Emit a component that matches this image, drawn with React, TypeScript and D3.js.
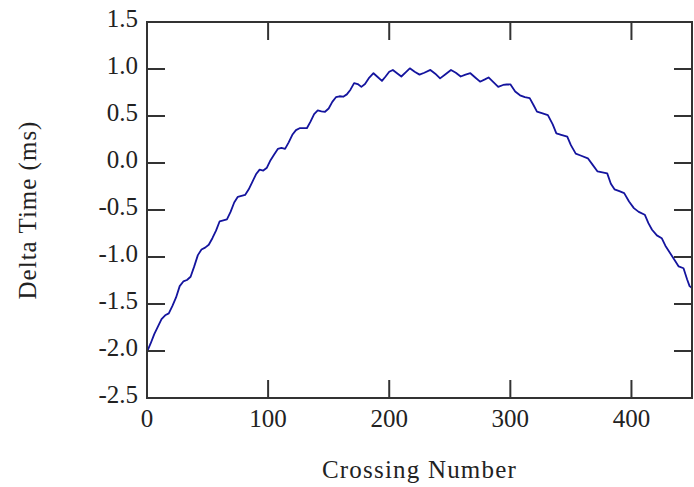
import { useEffect } from 'react';
import * as d3 from 'd3';

// crossing number vs. delta time (ms)
const CROSSING = [
  0, 3, 6, 9, 12, 15, 18, 21, 24, 27, 30, 33, 36, 39, 42, 45, 48, 51, 54, 57,
  60, 63, 66, 69, 72, 75, 78, 81, 84, 87, 90, 93, 96, 99, 102, 105, 108, 111, 114, 117,
  120, 123, 126, 129, 132, 135, 138, 141, 144, 147, 150, 153, 156, 159, 162, 165, 168, 171, 174, 177,
  180, 183, 187, 190, 194, 197, 200, 203, 207, 210, 214, 217, 221, 225, 229, 234, 238, 242, 247, 251,
  255, 259, 263, 267, 271, 275, 279, 282, 286, 290, 294, 297, 300, 304, 308, 312, 316, 319, 322, 326,
  331, 335, 338, 342, 347, 350, 354, 358, 364, 368, 372, 376, 380, 383, 386, 390, 394, 398, 402, 406,
  411, 414, 417, 421, 425, 428, 432, 436, 439, 443, 446, 448, 450,
];
const DELTA = [
  -2.01, -1.92, -1.82, -1.74, -1.66, -1.62, -1.6, -1.52, -1.43, -1.31, -1.26, -1.245, -1.21, -1.1, -0.98, -0.92, -0.9, -0.87, -0.8, -0.72,
  -0.62, -0.61, -0.6, -0.52, -0.42, -0.36, -0.35, -0.34, -0.28, -0.2, -0.12, -0.07, -0.08, -0.05, 0.03, 0.09, 0.15, 0.16, 0.15, 0.22,
  0.3, 0.35, 0.37, 0.37, 0.37, 0.44, 0.52, 0.56, 0.55, 0.545, 0.58, 0.65, 0.7, 0.71, 0.705, 0.73, 0.78, 0.85, 0.84, 0.81,
  0.84, 0.9, 0.955, 0.92, 0.873, 0.92, 0.97, 0.99, 0.95, 0.92, 0.97, 1.007, 0.97, 0.94, 0.96, 0.99, 0.95, 0.9, 0.95, 0.99,
  0.96, 0.92, 0.94, 0.955, 0.91, 0.865, 0.89, 0.91, 0.86, 0.81, 0.83, 0.835, 0.837, 0.76, 0.72, 0.7, 0.69, 0.62, 0.546, 0.53,
  0.51, 0.41, 0.316, 0.3, 0.28, 0.19, 0.1, 0.08, 0.05, -0.02, -0.09, -0.1, -0.11, -0.22, -0.28, -0.3, -0.32, -0.41, -0.48, -0.52,
  -0.55, -0.64, -0.71, -0.77, -0.8, -0.88, -0.96, -1.04, -1.1, -1.12, -1.24, -1.31, -1.33,
];
const X_TICKS = [0, 100, 200, 300, 400];
const Y_TICKS = [-2.5, -2.0, -1.5, -1.0, -0.5, 0.0, 0.5, 1.0, 1.5];

const W = 694;
const H = 487;
const M = { left: 147, right: 692, top: 22, bottom: 398 };
const TICK = 18;
const FONT = '"Liberation Serif", "Times New Roman", serif';
const AXIS_COLOR = '#333333';

export default function App() {
  useEffect(() => {
    document.body.style.margin = '0';
  }, []);

  const x = d3.scaleLinear().domain([0, 450]).range([M.left, M.right]);
  const y = d3.scaleLinear().domain([-2.5, 1.5]).range([M.bottom, M.top]);

  const points: [number, number][] = CROSSING.map((c, i) => [c, DELTA[i]]);
  const line = d3
    .line<[number, number]>()
    .x((d) => x(d[0]))
    .y((d) => y(d[1]));

  return (
    <svg width={W} height={H} style={{ display: 'block', background: '#fff' }}>
      {/* data line */}
      <path d={line(points) ?? ''} fill="none" stroke="#14149e" strokeWidth={1.8} strokeLinejoin="round" />

      {/* frame */}
      <rect
        x={M.left}
        y={M.top}
        width={M.right - M.left}
        height={M.bottom - M.top}
        fill="none"
        stroke={AXIS_COLOR}
        strokeWidth={2}
      />

      {/* x ticks, bottom and top, pointing inward */}
      {X_TICKS.map((t) => (
        <g key={`x${t}`}>
          <line x1={x(t)} x2={x(t)} y1={M.bottom} y2={M.bottom - TICK} stroke={AXIS_COLOR} strokeWidth={2} />
          <line x1={x(t)} x2={x(t)} y1={M.top} y2={M.top + TICK} stroke={AXIS_COLOR} strokeWidth={2} />
          <text x={x(t)} y={427} textAnchor="middle" fontFamily={FONT} fontSize={25} fill="#222">
            {t}
          </text>
        </g>
      ))}

      {/* y ticks, left and right */}
      {Y_TICKS.map((t) => (
        <g key={`y${t}`}>
          <line x1={M.left} x2={M.left + TICK} y1={y(t)} y2={y(t)} stroke={AXIS_COLOR} strokeWidth={2} />
          <line x1={M.right} x2={M.right - TICK} y1={y(t)} y2={y(t)} stroke={AXIS_COLOR} strokeWidth={2} />
          <text
            x={138}
            y={y(t) + 5}
            textAnchor="end"
            fontFamily={FONT}
            fontSize={25}
            fill="#222"
          >
            {t.toFixed(1)}
          </text>
        </g>
      ))}

      {/* axis titles */}
      <text
        x={(M.left + M.right) / 2}
        y={478}
        textAnchor="middle"
        fontFamily={FONT}
        fontSize={25}
        letterSpacing={1.2}
        fill="#222"
      >
        Crossing Number
      </text>
      <text
        transform={`translate(36,${(M.top + M.bottom) / 2}) rotate(-90)`}
        textAnchor="middle"
        fontFamily={FONT}
        fontSize={25}
        letterSpacing={1}
        fill="#222"
      >
        Delta Time (ms)
      </text>
    </svg>
  );
}
